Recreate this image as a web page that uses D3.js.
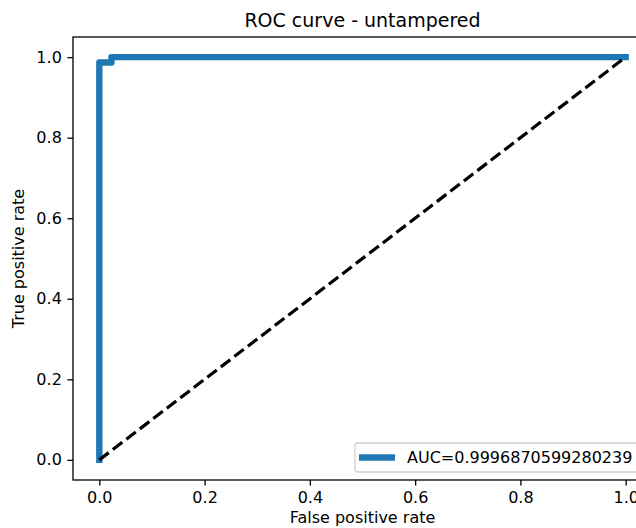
<!DOCTYPE html>
<html>
<head>
<meta charset="utf-8">
<script src="https://cdn.jsdelivr.net/npm/d3@7"></script>
<style>
  body { margin: 0; background: #fff; }
  svg text { font-family: "DejaVu Sans", sans-serif; fill: #000; }
</style>
</head>
<body>
<div id="chart"></div>
<script>
// ROC points
var fpr = [0, 0, 0.023, 0.023, 1]
var tpr = [0, 0.9865, 0.9865, 1, 1]
var chanceX = [0, 1]
var chanceY = [0, 1]
var tickValues = [0, 0.2, 0.4, 0.6, 0.8, 1.0]
var legendLabel = "AUC=0.9996870599280239"

var width = 636, height = 528
var margin = {top: 37, left: 73, right: -16, bottom: 48}

var svg = d3.select("#chart")
  .append("svg")
  .attr("width", width)
  .attr("height", height)

var x = d3.scaleLinear().domain([-0.05, 1.05]).range([margin.left, width - margin.right])
var y = d3.scaleLinear().domain([-0.05, 1.05]).range([height - margin.bottom, margin.top])

var clip = svg.append("clipPath").attr("id", "plotclip")
  .append("rect")
  .attr("x", x(-0.05)).attr("y", y(1.05))
  .attr("width", x(1.05) - x(-0.05)).attr("height", y(-0.05) - y(1.05))

var roc = fpr.map(function(d, i) { return [d, tpr[i]] })
var chance = chanceX.map(function(d, i) { return [d, chanceY[i]] })

var line = d3.line()
  .x(function(d) { return x(d[0]) })
  .y(function(d) { return y(d[1]) })

var plot = svg.append("g").attr("clip-path", "url(#plotclip)")

plot.append("path")
  .datum(roc)
  .attr("d", line)
  .attr("fill", "none")
  .attr("stroke", "#1f77b4")
  .attr("stroke-width", 6.4)
  .attr("stroke-linecap", "square")
  .attr("stroke-linejoin", "round")

plot.append("path")
  .datum(chance)
  .attr("d", line)
  .attr("fill", "none")
  .attr("stroke", "#000")
  .attr("stroke-width", 3.2)
  .attr("stroke-dasharray", "11.9,5.1")

// axes
var xAxis = d3.axisBottom(x).tickValues(tickValues).tickFormat(d3.format(".1f")).tickSize(5.6).tickPadding(5.6)
var yAxis = d3.axisLeft(y).tickValues(tickValues).tickFormat(d3.format(".1f")).tickSize(5.6).tickPadding(5.6)

var gx = svg.append("g")
  .attr("transform", "translate(0," + y(-0.05) + ")")
  .call(xAxis)
var gy = svg.append("g")
  .attr("transform", "translate(" + x(-0.05) + ",0)")
  .call(yAxis)

;[gx, gy].forEach(function(g) {
  g.select(".domain").remove()
  g.selectAll("line").attr("stroke", "#000").attr("stroke-width", 1.3)
  g.selectAll("text").style("font-size", "16px").attr("fill", "#000")
})

// spines
svg.append("rect")
  .attr("x", x(-0.05)).attr("y", y(1.05))
  .attr("width", x(1.05) - x(-0.05)).attr("height", y(-0.05) - y(1.05))
  .attr("fill", "none")
  .attr("stroke", "#000")
  .attr("stroke-width", 1.3)

// legend, lower right
var lgX = 355, lgY = 443, lgW = 289, lgH = 29
svg.append("rect")
  .attr("x", lgX).attr("y", lgY)
  .attr("width", lgW).attr("height", lgH)
  .attr("rx", 3)
  .attr("fill", "#fff")
  .attr("fill-opacity", 0.8)
  .attr("stroke", "#d0d0d0")
  .attr("stroke-width", 1.3)

svg.append("line")
  .attr("x1", lgX + 4).attr("x2", lgX + 40)
  .attr("y1", lgY + lgH / 2).attr("y2", lgY + lgH / 2)
  .attr("stroke", "#1f77b4")
  .attr("stroke-width", 6.4)

svg.append("text")
  .attr("x", lgX + 52)
  .attr("y", lgY + lgH / 2)
  .attr("dy", "0.35em")
  .style("font-size", "16px")
  .text(legendLabel)

// title and labels
var cx = (x(-0.05) + x(1.05)) / 2
svg.append("text")
  .attr("x", cx).attr("y", 27)
  .attr("text-anchor", "middle")
  .style("font-size", "19px")
  .text("ROC curve - untampered")

svg.append("text")
  .attr("x", cx).attr("y", 523)
  .attr("text-anchor", "middle")
  .style("font-size", "16px")
  .text("False positive rate")

svg.append("text")
  .attr("transform", "translate(24," + ((y(-0.05) + y(1.05)) / 2) + ") rotate(-90)")
  .attr("text-anchor", "middle")
  .style("font-size", "16px")
  .text("True positive rate")
</script>
</body>
</html>
